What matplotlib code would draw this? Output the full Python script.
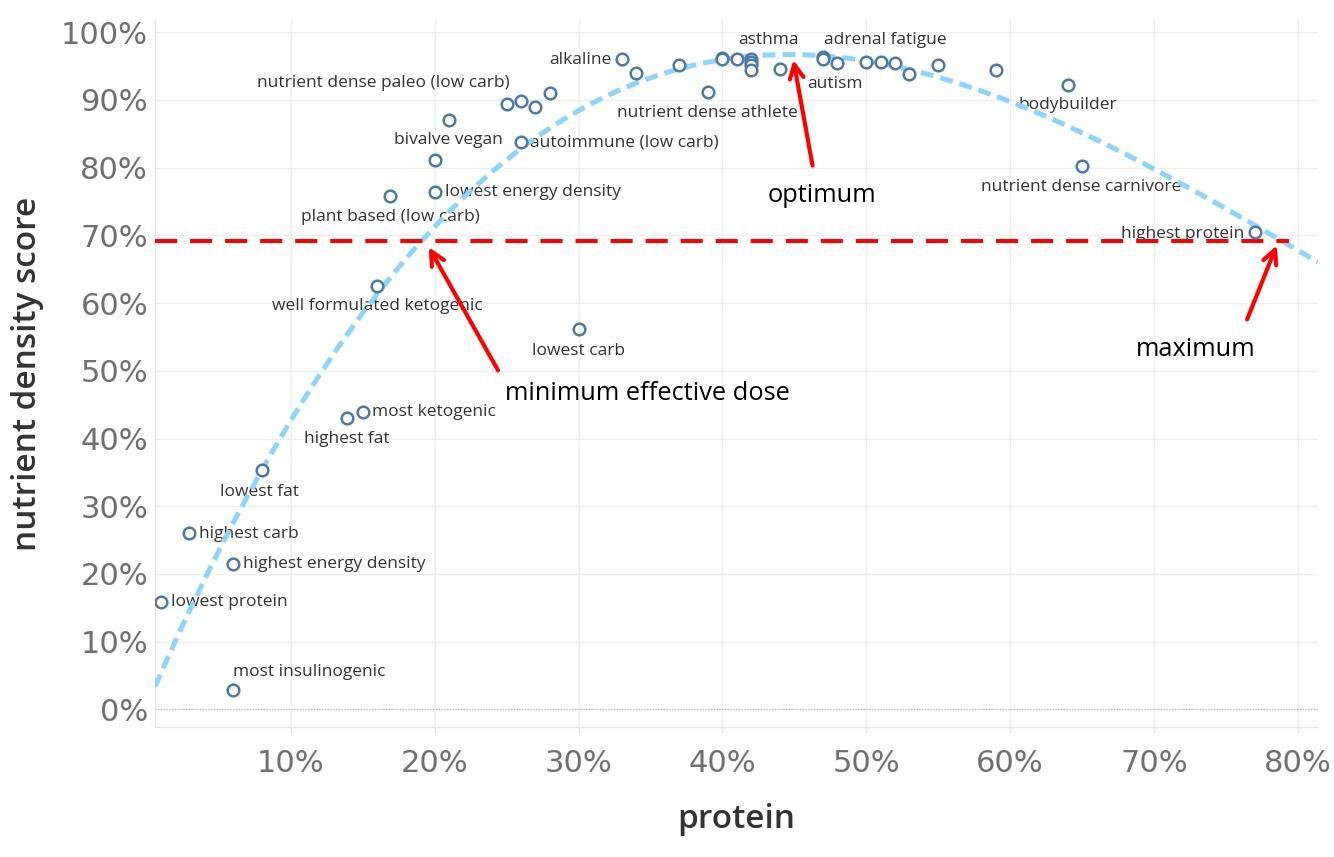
import numpy as np
import matplotlib
matplotlib.use("Agg")
import matplotlib.pyplot as plt
from matplotlib.ticker import FuncFormatter

# ---------------- data ----------------
protein = [0.95, 2.94, 5.96, 5.96, 7.98, 13.9, 15.0, 16.0, 16.9, 20.0,
           20.0, 21.0, 25.0, 26.0, 27.0, 28.0, 26.0, 30.0, 33.0, 34.0,
           37.0, 39.0, 40.0, 40.0, 41.0, 42.0, 42.0, 42.0, 42.0, 44.0,
           47.0, 47.0, 48.0, 50.0, 51.0, 52.0, 53.0, 55.0, 59.0, 64.0,
           65.0, 77.0]
score = [15.9, 26.0, 21.5, 2.9, 35.3, 43.0, 43.9, 62.5, 75.8, 76.4,
         81.1, 87.1, 89.4, 89.8, 89.0, 91.0, 83.8, 56.1, 96.1, 94.0,
         95.2, 91.1, 96.2, 96.0, 96.0, 96.1, 95.6, 95.1, 94.4, 94.5,
         96.3, 96.0, 95.5, 95.6, 95.6, 95.5, 93.8, 95.2, 94.4, 92.2,
         80.3, 70.5]
names = ["lowest protein", "highest carb", "highest energy density", "most insulinogenic",
         "lowest fat", "highest fat", "most ketogenic", "well formulated ketogenic",
         "plant based (low carb)", "lowest energy density", "bivalve vegan",
         "nutrient dense paleo (low carb)", "", "", "", "", "autoimmune (low carb)",
         "lowest carb", "alkaline", "", "", "nutrient dense athlete", "", "", "",
         "asthma", "", "", "", "", "adrenal fatigue", "", "autism", "", "", "", "",
         "", "", "bodybuilder", "nutrient dense carnivore", "highest protein"]

x_ticks = [10, 20, 30, 40, 50, 60, 70, 80]
y_ticks = [0, 10, 20, 30, 40, 50, 60, 70, 80, 90, 100]
threshold = 69.2
threshold_end = 79.4

# label placement (pixel offsets, alignment)
label_layout = {
    "lowest protein": (10, 0, "left"),
    "highest carb": (10, -1, "left"),
    "highest energy density": (10, 0, "left"),
    "most insulinogenic": (0, 18, "left"),
    "lowest fat": (-2, -22, "center"),
    "highest fat": (0, -21, "center"),
    "most ketogenic": (9, 0, "left"),
    "well formulated ketogenic": (0, -20, "center"),
    "plant based (low carb)": (0, -21, "center"),
    "lowest energy density": (10, 0, "left"),
    "bivalve vegan": (14, 20, "center"),
    "nutrient dense paleo (low carb)": (-66, 37, "center"),
    "autoimmune (low carb)": (9, -1, "left"),
    "lowest carb": (0, -22, "center"),
    "alkaline": (-10, -1, "right"),
    "nutrient dense athlete": (-1, -21, "center"),
    "asthma": (17, 19, "center"),
    "adrenal fatigue": (62, 17, "center"),
    "autism": (-2, -21, "center"),
    "bodybuilder": (0, -20, "center"),
    "nutrient dense carnivore": (-1, -21, "center"),
    "highest protein": (-10, -2, "right"),
}

# ---------------- figure ----------------
plt.rcParams['font.family'] = ['Open Sans', 'DejaVu Sans']
fig = plt.figure(figsize=(13.34, 8.57), dpi=100)
ax = fig.add_axes([155/1334, 1 - 727/857, (1318-155)/1334, (727-20)/857])

ax.set_xlim(0.56, 81.4)
ax.set_ylim(-2.6, 101.8)

ax.set_xticks(x_ticks)
ax.set_yticks(y_ticks)
pct = FuncFormatter(lambda v, p: f"{v:.0f}%")
ax.xaxis.set_major_formatter(pct)
ax.yaxis.set_major_formatter(pct)
ax.grid(True, color="#efefef", lw=1.0, zorder=0)
ax.set_axisbelow(True)
for s in ["top", "right"]:
    ax.spines[s].set_visible(False)
for s in ["left", "bottom"]:
    ax.spines[s].set_color("#e6e6e6")
    ax.spines[s].set_linewidth(1.0)
ax.tick_params(axis="x", length=4, color="#e8e8e8", pad=12)
ax.tick_params(axis="y", length=0, pad=5)
for lab in ax.get_xticklabels() + ax.get_yticklabels():
    lab.set_fontfamily("DejaVu Sans")
    lab.set_fontsize(22)
    lab.set_color("#707070")
    lab.set_fontweight("normal")

ax.axhline(0, color="#aaaaaa", lw=0.8, ls=(0, (1, 1.5)), zorder=1)

# trend line (cubic fit of the scores)
coef = np.polyfit(protein, score, 3)
xs = np.linspace(0.56, 81.4, 400)
ax.plot(xs, np.polyval(coef, xs), color="#8fd4fb", lw=3.6, ls=(0, (2.6, 1.4)), zorder=3)

# threshold line
ax.plot([0.56, threshold_end], [threshold, threshold], color="#ff0000", lw=2.9,
        ls=(0, (5.5, 3.2)), zorder=4, solid_capstyle="butt")

ax.scatter(protein, score, s=70, facecolors="white", edgecolors="#4e79a7",
           linewidths=1.8, zorder=5)

for xv, yv, nm in zip(protein, score, names):
    if not nm:
        continue
    dx, dy, ha = label_layout[nm]
    ax.annotate(nm, (xv, yv), xytext=(dx, dy), textcoords="offset pixels",
                ha=ha, va="center", fontsize=12.5, color="#333333", zorder=2)

# red arrows and annotations
arrow_kw = dict(arrowstyle="->,head_length=1.0,head_width=0.5", color="#ff0000", lw=3)
ax.annotate("", xy=(44.9, 96.3), xytext=(46.3, 79.9), arrowprops=arrow_kw, zorder=6)
ax.annotate("", xy=(19.5, 68.6), xytext=(24.5, 49.7), arrowprops=arrow_kw, zorder=6)
ax.annotate("", xy=(78.6, 68.9), xytext=(76.4, 57.2), arrowprops=arrow_kw, zorder=6)
ax.text(46.9, 75.9, "optimum", fontsize=18.3, color="black", ha="center", va="center", zorder=6)
ax.text(34.8, 46.7, "minimum effective dose", fontsize=18.3, color="black", ha="center", va="center", zorder=6)
ax.text(72.9, 53.2, "maximum", fontsize=18.3, color="black", ha="center", va="center", zorder=6)

ax.set_xlabel("protein", fontsize=24, color="#333333", fontweight="semibold", labelpad=18)
ax.set_ylabel("nutrient density score", fontsize=24, color="#333333", fontweight="semibold", labelpad=12)

fig.savefig("out.png", dpi=100)
